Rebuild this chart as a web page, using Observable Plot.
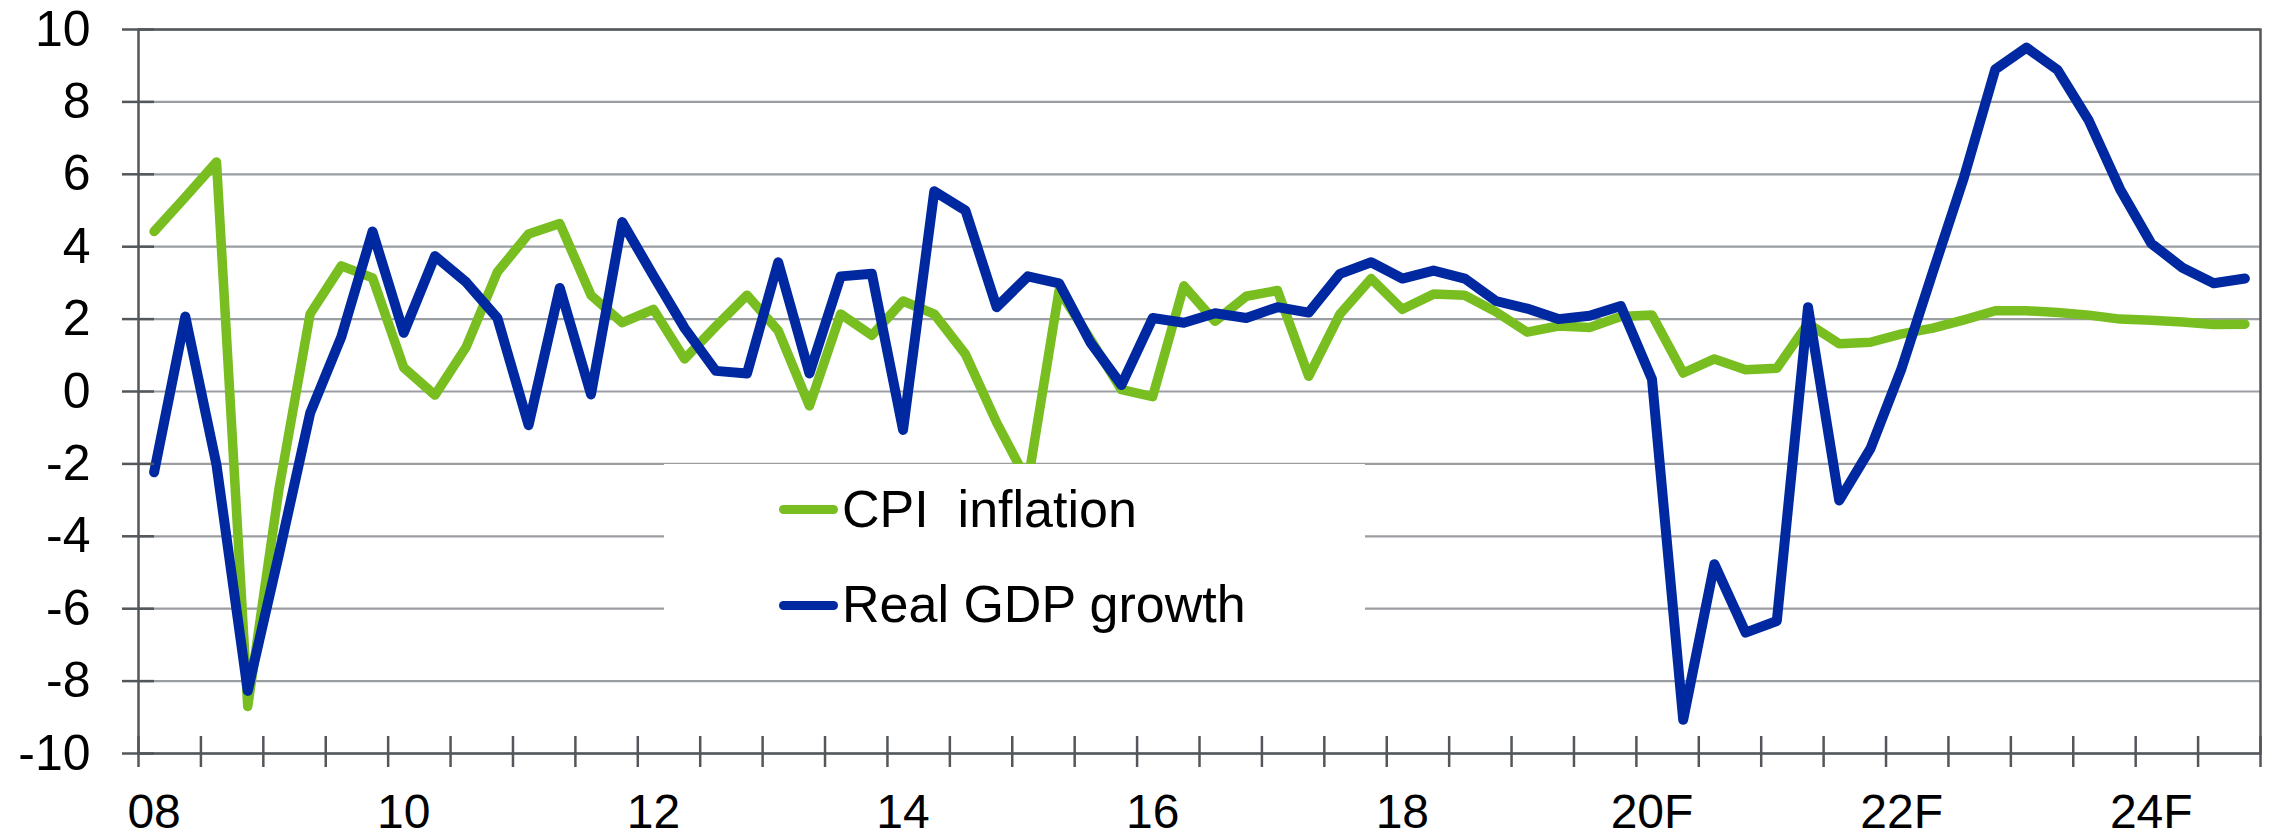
<!DOCTYPE html>
<html>
<head>
<meta charset="utf-8">
<script src="https://cdn.jsdelivr.net/npm/d3@7"></script>
<script src="https://cdn.jsdelivr.net/npm/@observablehq/plot@0.6"></script>
<style>
  html, body { margin: 0; padding: 0; background: #ffffff; }
  #wrap { position: relative; width: 2272px; height: 840px; font-family: "Liberation Sans", Arial, sans-serif; }
  #legend { position: absolute; left: 664px; top: 464px; width: 701px; height: 212px; background: #ffffff; }
  .sw { position: absolute; left: 115px; width: 59px; height: 9px; border-radius: 5px; }
  .lt { position: absolute; left: 178px; font-size: 52px; line-height: 52px; color: #000; white-space: pre; }
</style>
</head>
<body>
<div id="wrap"></div>
<script>
// Categories: quarters 2008Q1 .. 2024Q4
const years = [2008, 2009, 2010, 2011, 2012, 2013, 2014, 2015, 2016, 2017, 2018, 2019, 2020, 2021, 2022, 2023, 2024];
const quarterNames = ["Q1", "Q2", "Q3", "Q4"];
const quarters = years.flatMap(y => quarterNames.map(q => y + q));

// Tick labels (shown at Q1 of every second year)
const tickLabelQuarters = ["2008Q1", "2010Q1", "2012Q1", "2014Q1", "2016Q1", "2018Q1", "2020Q1", "2022Q1", "2024Q1"];
const tickLabels = ["08", "10", "12", "14", "16", "18", "20F", "22F", "24F"];

// Series values (% y/y)
const cpiInflation = [
  4.42, 5.37, 6.34, -8.7, -2.7, 2.14, 3.47, 3.14,
  0.66, -0.1, 1.23, 3.3, 4.35, 4.64, 2.66, 1.9,
  2.27, 0.9, 1.8, 2.66, 1.68, -0.4, 2.14, 1.55,
  2.5, 2.14, 1.03, -0.86, -2.5, 2.79, 1.45, 0.05,
  -0.14, 2.92, 1.94, 2.63, 2.79, 0.42, 2.14, 3.12,
  2.27, 2.69, 2.66, 2.2, 1.64, 1.81, 1.77, 2.07,
  2.11, 0.51, 0.9, 0.6, 0.64, 1.88, 1.32, 1.36,
  1.59, 1.75, 1.98, 2.23, 2.23, 2.18, 2.11, 2.0,
  1.97, 1.92, 1.85, 1.86
];
const realGdpGrowth = [
  -2.23, 2.07, -2.03, -8.27, -4.5, -0.6, 1.51, 4.42,
  1.62, 3.74, 3.02, 2.03, -0.93, 2.86, -0.08, 4.68,
  3.2, 1.75, 0.57, 0.5, 3.57, 0.5, 3.18, 3.25,
  -1.06, 5.53, 5.0, 2.33, 3.18, 2.99, 1.36, 0.18,
  2.03, 1.9, 2.16, 2.03, 2.33, 2.18, 3.25, 3.57,
  3.12, 3.34, 3.12, 2.5, 2.29, 2.0, 2.09, 2.36,
  0.34, -9.07, -4.77, -6.66, -6.34, 2.33, -3.01, -1.58,
  0.64, 3.3, 5.92, 8.9, 9.5, 8.88, 7.48, 5.59,
  4.09, 3.42, 2.99, 3.12
];
const yTicks = [-10, -8, -6, -4, -2, 0, 2, 4, 6, 8, 10];

const seriesNames = ["CPI  inflation", "Real GDP growth"];
const seriesColors = ["#78be20", "#0028a0"];

const green = seriesColors[0], blue = seriesColors[1];
const gridColor = "#9a9da1";
const axisColor = "#53575b";

const cpiRows = quarters.map((q, i) => ({i, v: cpiInflation[i]}));
const gdpRows = quarters.map((q, i) => ({i, v: realGdpGrowth[i]}));

// tick marks between categories, every two quarters
const boundaryTicks = d3.range(0, quarters.length + 1, 2).map(k => k - 0.5);
const labelPos = tickLabelQuarters.map(q => quarters.indexOf(q));
const labelByPos = new Map(labelPos.map((p, j) => [p, tickLabels[j]]));

const chart = Plot.plot({
  width: 2272,
  height: 840,
  marginLeft: 138,
  marginRight: 12,
  marginTop: 29,
  marginBottom: 87,
  x: {domain: [-0.5, quarters.length - 0.5]},
  y: {domain: [-10, 10]},
  style: {fontFamily: "'Liberation Sans', Arial, sans-serif", fontSize: "50px", color: "#000", background: "#fff"},
  marks: [
    Plot.ruleY(yTicks, {stroke: gridColor, strokeWidth: 2.2}),
    Plot.lineY(cpiRows, {x: "i", y: "v", stroke: green, strokeWidth: 9.5, strokeLinejoin: "round", strokeLinecap: "round"}),
    Plot.lineY(gdpRows, {x: "i", y: "v", stroke: blue, strokeWidth: 10, strokeLinejoin: "round", strokeLinecap: "round"}),
    Plot.frame({stroke: axisColor, strokeWidth: 2.5}),
    Plot.axisY(yTicks, {anchor: "left", tickSize: 32, dx: 16, tickPadding: 32, tickFormat: d => String(d), stroke: axisColor, strokeWidth: 2.5, label: null, fontSize: 50}),
    Plot.axisX(boundaryTicks, {anchor: "bottom", tickSize: 31, dy: -17, tickFormat: () => "", stroke: axisColor, strokeWidth: 2.5, label: null}),
    Plot.axisX(labelPos, {anchor: "bottom", tickSize: 0, tickPadding: 40, tickFormat: p => labelByPos.get(p), label: null, fontSize: 48})
  ]
});

const wrap = document.getElementById("wrap");
wrap.appendChild(chart);

// Legend (white box overlaying the plot area, as in the reference)
const legend = document.createElement("div");
legend.id = "legend";
seriesNames.forEach((name, j) => {
  const sw = document.createElement("div");
  sw.className = "sw";
  sw.style.background = seriesColors[j];
  sw.style.top = (41 + j * 96) + "px";
  legend.appendChild(sw);
  const t = document.createElement("div");
  t.className = "lt";
  t.style.top = (19 + j * 95) + "px";
  t.textContent = name;
  legend.appendChild(t);
});
wrap.appendChild(legend);
</script>
</body>
</html>
